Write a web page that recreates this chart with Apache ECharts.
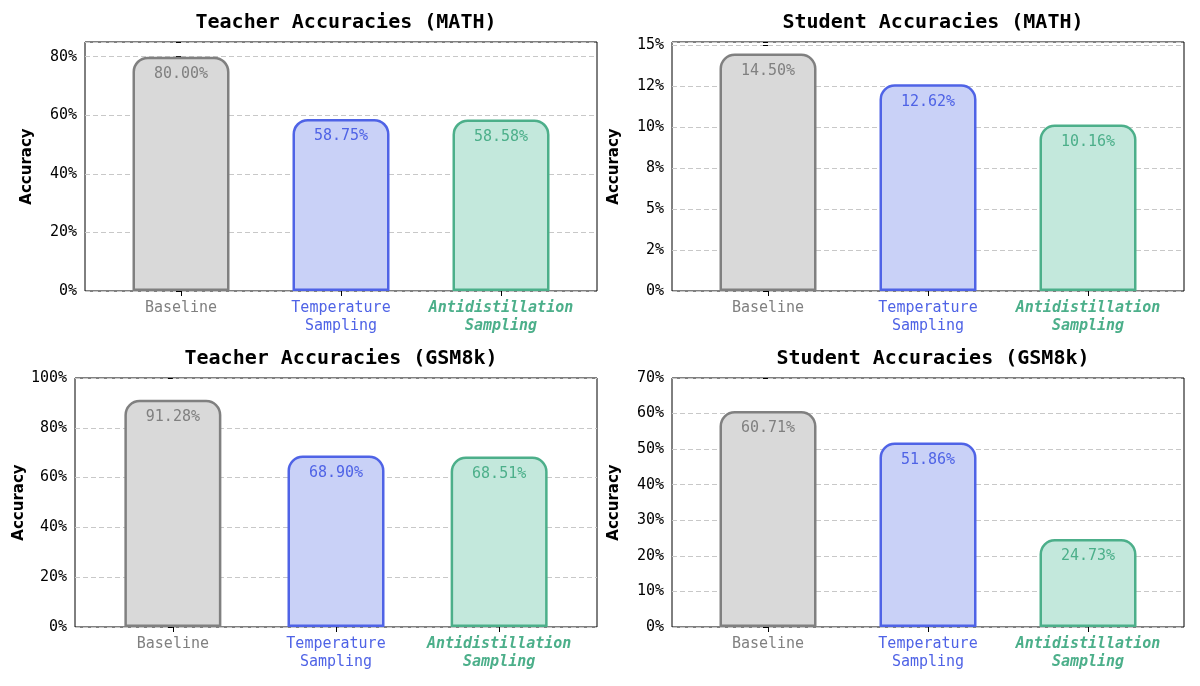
<!DOCTYPE html>
<html><head><meta charset="utf-8">
<script src="https://cdn.jsdelivr.net/npm/echarts@6/dist/echarts.min.js"></script>
<style>html,body{margin:0;background:#fff}#c{width:1200px;height:686px}</style>
</head><body><div id="c"></div>
<script>
var categories = ['Baseline', 'Temperature\nSampling', 'Antidistillation\nSampling']
var teacherMath = [80.00, 58.75, 58.58]
var studentMath = [14.50, 12.62, 10.16]
var teacherGsm = [91.28, 68.90, 68.51]
var studentGsm = [60.71, 51.86, 24.73]

var fills = ['#d9d9d9', '#c9d1f7', '#c3e8dc']
var edges = ['#808080', '#4f63e6', '#4caf8a']
var mono = 'DejaVu Sans Mono'

// matplotlib style rounding (half to even)
function pct(v) {
    var r = Math.round(v)
    if (Math.abs(v - Math.floor(v) - 0.5) < 1e-9 && Math.floor(v) % 2 === 0) r = Math.floor(v)
    return r + '%'
}

var panels = [
    {title: 'Teacher Accuracies (', ds: 'MATH', data: teacherMath, max: 85, step: 20, grid: {left: 85, right: 603, top: 42, height: 249}},
    {title: 'Student Accuracies (', ds: 'MATH', data: studentMath, max: 15.2, step: 2.5, grid: {left: 672, right: 16, top: 42, height: 249}},
    {title: 'Teacher Accuracies (', ds: 'GSM8k', data: teacherGsm, max: 100, step: 20, grid: {left: 75, right: 603, top: 378, height: 249}},
    {title: 'Student Accuracies (', ds: 'GSM8k', data: studentGsm, max: 70, step: 10, grid: {left: 672, right: 16, top: 378, height: 249}}
]

var chart = echarts.init(document.getElementById('c'))
var option = {title: [], grid: [], xAxis: [], yAxis: [], series: [], animation: false}

panels.forEach(function (p, i) {
    var cx = p.grid.left + (1200 - p.grid.left - p.grid.right) / 2
    option.title.push({
        text: '{n|' + p.title + '}{b|' + p.ds + '}{n|)}',
        left: cx, top: p.grid.top - 34, textAlign: 'center',
        textStyle: {rich: {
            n: {fontFamily: mono, fontSize: 20, color: '#000'},
            b: {fontFamily: mono, fontSize: 20, fontWeight: 'bold', color: '#000'}
        }}
    })
    option.grid.push(Object.assign({show: true, borderColor: '#000', borderWidth: 1}, p.grid))
    option.xAxis.push({
        type: 'value', gridIndex: i, min: -0.6, max: 2.6,
        splitLine: {show: false},
        axisLine: {show: false},
        axisTick: {show: true, customValues: [0, 1, 2], length: 5, lineStyle: {color: '#000'}},
        axisLabel: {
            customValues: [0, 1, 2], margin: 8,
            formatter: function (v) {
                var k = Math.round(v)
                var lines = categories[k].split('\n')
                var tag = ['g', 'b', 'a'][k]
                return lines.map(function (l) { return '{' + tag + '|' + l + '}' }).join('\n')
            },
            rich: {
                g: {fontFamily: mono, fontSize: 15, color: edges[0], lineHeight: 18},
                b: {fontFamily: mono, fontSize: 15, color: edges[1], lineHeight: 18},
                a: {fontFamily: mono, fontSize: 15, color: edges[2], fontWeight: 'bold', fontStyle: 'italic', lineHeight: 18}
            }
        }
    })
    option.yAxis.push({
        type: 'value', gridIndex: i, min: 0, max: p.max, interval: p.step,
        name: 'Accuracy', nameLocation: 'middle', nameGap: p.grid.left === 75 ? 48 : 50,
        nameTextStyle: {fontFamily: 'DejaVu Sans', fontSize: 15, fontWeight: 'bold', color: '#000'},
        axisLine: {show: false},
        axisTick: {show: true, length: 5, lineStyle: {color: '#000'}},
        axisLabel: {
            fontFamily: mono, fontSize: 15, color: '#000',
            formatter: function (v) {
                var q = v / p.step
                return Math.abs(q - Math.round(q)) < 1e-6 ? pct(v) : ''
            }
        },
        splitLine: {show: true, lineStyle: {type: [5, 3], color: '#c8c8c8'}}
    })
    option.series.push({
        type: 'bar', xAxisIndex: i, yAxisIndex: i, barWidth: 97,
        data: p.data.map(function (v, k) {
            return {
                value: [k, v],
                itemStyle: {color: fills[k], borderColor: edges[k], borderWidth: 2.5, borderRadius: [14, 14, 0, 0]},
                label: {color: edges[k]}
            }
        }),
        label: {
            show: true, position: 'insideTop', distance: 10,
            fontFamily: mono, fontSize: 15,
            formatter: function (d) { return d.value[1].toFixed(2) + '%' }
        }
    })
})
chart.setOption(option)
</script></body></html>
